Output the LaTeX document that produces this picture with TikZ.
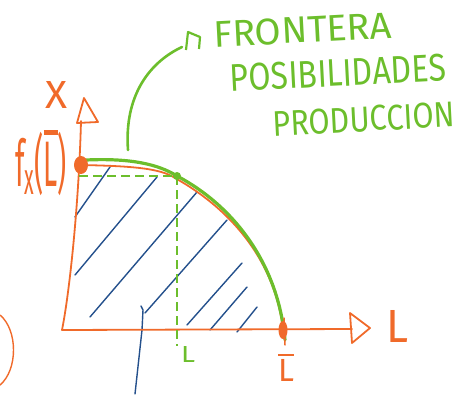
\documentclass[tikz,border=0pt]{standalone}
\usepackage{fontspec}
\setmainfont{Fira Sans}
\usepackage{graphicx}
\definecolor{pgreen}{HTML}{6CBE2C}
\definecolor{porange}{HTML}{F06A2A}
\definecolor{pblue}{HTML}{24508C}
\newcommand{\barL}{\leavevmode\rlap{\raisebox{0.8em}{\rule{0.5em}{0.07em}}}L}
\tikzset{
  ax/.style={draw=porange, line width=1.8pt, line cap=round, line join=round},
  front/.style={draw=pgreen, line width=3.2pt, line cap=round},
  guide/.style={draw=pgreen, line width=1.8pt, dash pattern=on 9pt off 5pt},
  hatch/.style={draw=pblue, line width=1.4pt, line cap=round},
  olab/.style={text=porange, inner sep=0pt},
  glab/.style={text=pgreen, inner sep=0pt},
}
\begin{document}
\begin{tikzpicture}[x=1pt,y=-1pt]
\useasboundingbox (0,0) rectangle (458,394);
% named points
\coordinate (O) at (62,330);
\coordinate (ytop) at (81,121);
\coordinate (xend) at (352,329);
\coordinate (fx) at (81,165);
\coordinate (P) at (177,176);
\coordinate (Lb) at (283,330);
\coordinate (Lg) at (177,346);
\coordinate (yax) at (79,176);
\coordinate (lead0) at (128,150);
\coordinate (lead1) at (182,47);
% hatching
\draw[hatch] (75,217) -- (110,167);
\draw[hatch] (75,275) -- (157,177);
\draw[hatch] (90,317) -- (197,192);
\draw[hatch] (135,394) -- (142,330) -- (143,310) -- (141,306);
\draw[hatch] (145,313) -- (227,220);
\draw[hatch] (187,325) -- (242,263);
\draw[hatch] (210,330) -- (247,287);
\draw[hatch] (237,332) -- (257,307);
% axes
\draw[ax] (ytop) .. controls (79,200) and (70,290) .. (O) -- (xend);
\draw[ax] (84,98) -- (98,122) -- (77,123) -- cycle;
\draw[ax] (350,313) -- (370,328) -- (352,343) -- cycle;
% orange curve
\draw[ax] (fx) .. controls (130,166) and (160,168) .. (175,178) .. controls (236,212) and (276,266) .. (Lb);
% green guides
\draw[guide] (yax) -- (P);
\draw[guide] (P) -- (Lg);
% green frontier
\draw[front] (86,160) .. controls (130,158) and (158,164) .. (P) .. controls (232,205) and (278,262) .. (285,340);
% dots
\fill[porange] (fx) ellipse (7pt and 9pt);
\fill[porange] (Lb) ellipse (4.5pt and 9pt);
\draw[ax, line width=1.5pt] (284,318) -- (285,345);
\fill[pgreen] (P) circle (4pt);
% leader
\draw[front, line width=2.6pt] (lead0) .. controls (124,95) and (150,62) .. (lead1);
\draw[pgreen, line width=2.2pt, line join=round] (186,50) -- (188,32) -- (200,37) -- (199,49);
% labels
\node[olab] (X) at (57,95) {\resizebox{22pt}{27pt}{X}};
\node[olab] (L) at (397,326) {\resizebox{22pt}{32pt}{L}};
\node[olab, font=\fontsize{32}{32}\selectfont] (Lbar) at (286,368) {\barL};
\node[olab] (fxl) at (41,163) {\resizebox{52pt}{56pt}{\fontsize{30}{30}\selectfont f\textsubscript{x}(\barL)}};
\node[glab] (Lgl) at (188,354) {\resizebox{14pt}{16pt}{L}};
\node[glab, rotate=3] (t1) at (303,30) {\resizebox{178pt}{26pt}{FRONTERA}};
\node[glab, rotate=3] (t2) at (338,73) {\resizebox{216pt}{27pt}{POSIBILIDADES}};
\node[glab, rotate=3] (t3) at (364,119) {\resizebox{182pt}{25pt}{PRODUCCION}};
% left arc
\draw[ax, line width=1.4pt] (0,315) .. controls (18,330) and (18,370) .. (0,385);
\end{tikzpicture}
\end{document}
